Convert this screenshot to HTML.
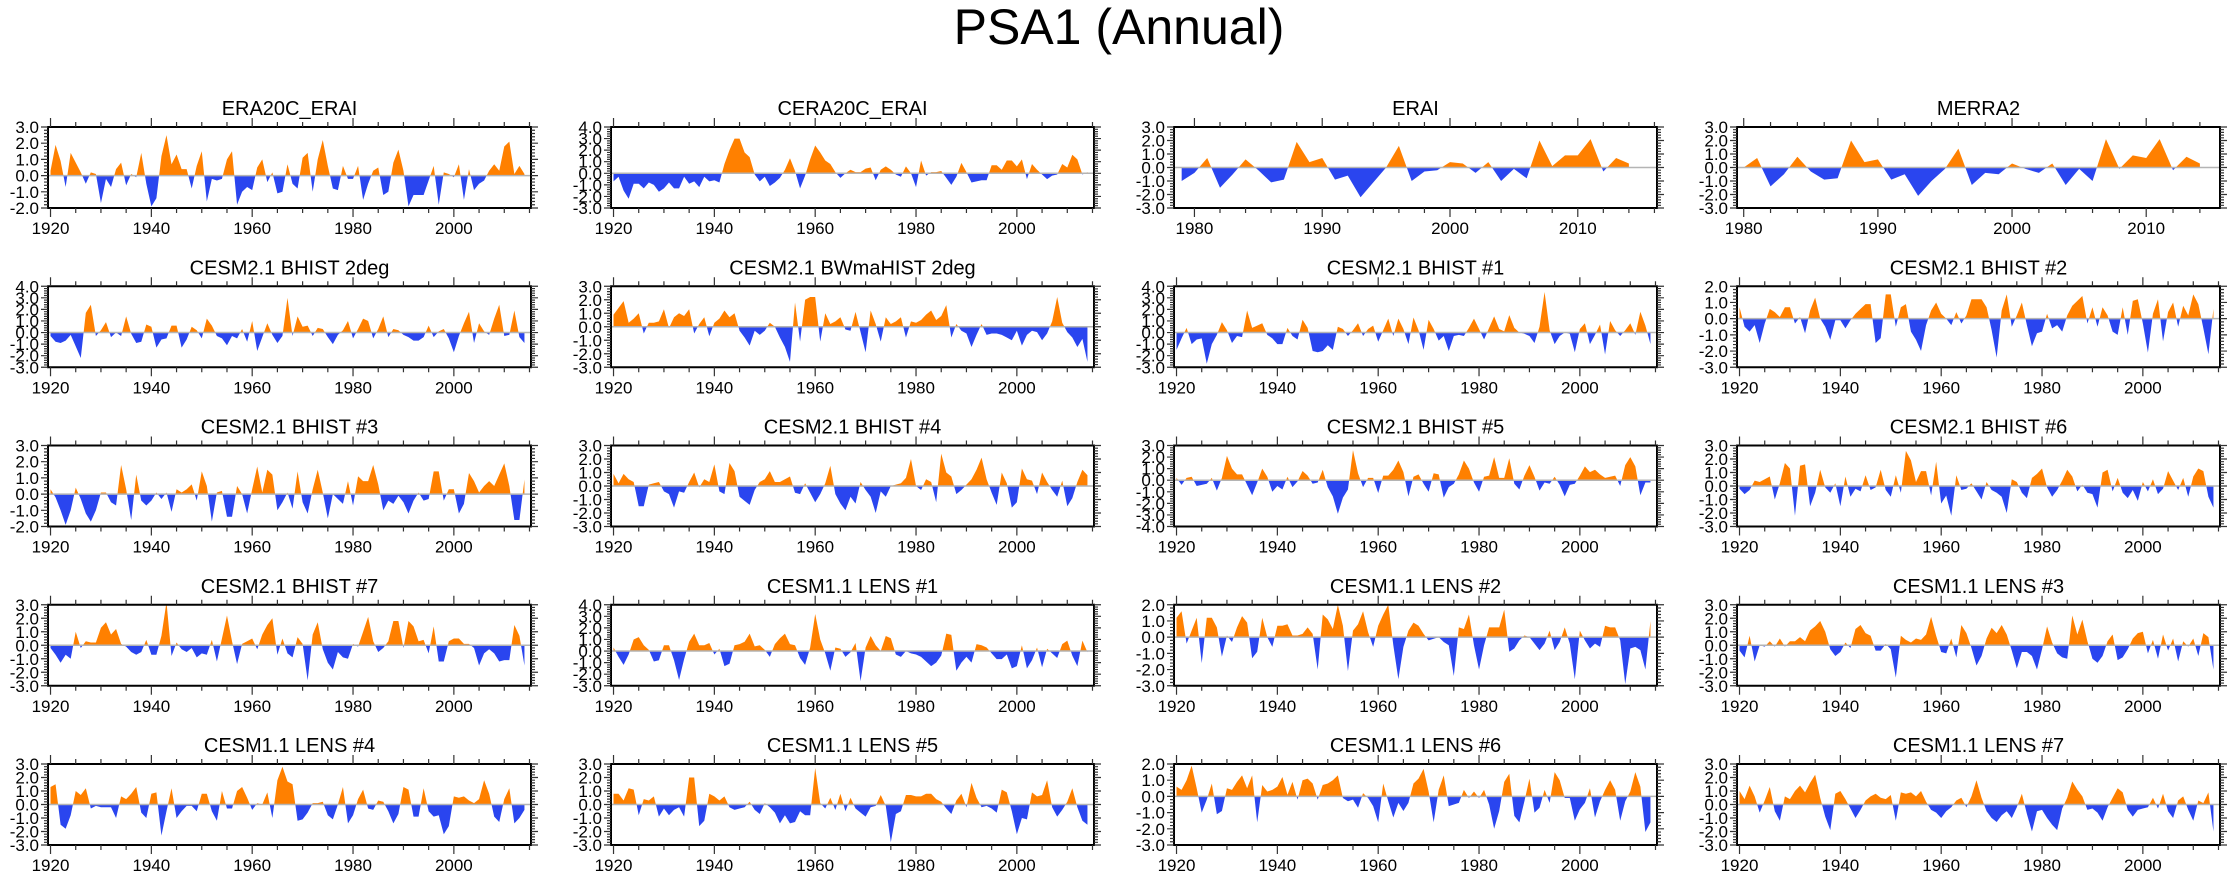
<!DOCTYPE html>
<html>
<head>
<meta charset="utf-8">
<style>
html,body{margin:0;padding:0;background:#fff;}
svg{display:block;font-family:"Liberation Sans",Arial,sans-serif;}
</style>
</head>
<body>
<svg id="chart" width="2238" height="877" viewBox="0 0 2238 877" xmlns="http://www.w3.org/2000/svg">
<text x="1119" y="44" text-anchor="middle" font-size="50">PSA1 (Annual)</text>
<g id="panels"></g>
</svg>
<script>
// ---- data ----
const panelTitles = ["ERA20C_ERAI","CERA20C_ERAI","ERAI","MERRA2",
"CESM2.1 BHIST 2deg","CESM2.1 BWmaHIST 2deg","CESM2.1 BHIST #1","CESM2.1 BHIST #2",
"CESM2.1 BHIST #3","CESM2.1 BHIST #4","CESM2.1 BHIST #5","CESM2.1 BHIST #6",
"CESM2.1 BHIST #7","CESM1.1 LENS #1","CESM1.1 LENS #2","CESM1.1 LENS #3",
"CESM1.1 LENS #4","CESM1.1 LENS #5","CESM1.1 LENS #6","CESM1.1 LENS #7"];
const startYears = [1920,1920,1979,1980,1920,1920,1920,1920,1920,1920,1920,1920,1920,1920,1920,1920,1920,1920,1920,1920];
const yMins = [-2,-3,-3,-3,-3,-3,-3,-3,-2,-3,-4,-3,-3,-3,-3,-3,-3,-3,-3,-3];
const yMaxs = [3,4,3,3,4,3,4,2,3,3,3,3,3,4,2,3,3,3,2,3];
const yTickLabels = ["-4.0","-3.0","-2.0","-1.0","0.0","1.0","2.0","3.0","4.0"];

const era20c = [0.3,1.9,0.9,-0.7,1.4,0.8,0.2,-0.5,0.2,0.1,-1.7,-0.2,-0.7,0.4,0.8,-0.6,0.1,-0.1,1.4,-0.5,-1.9,-1.4,1.2,2.5,0.7,1.3,0.4,0.4,-0.8,0.6,1.5,-1.6,-0.2,-0.3,-0.2,1.0,1.5,-1.8,-1.0,-0.7,-0.9,0.5,1.0,-0.4,0.2,-1.1,-1.0,0.7,-0.5,-0.8,1.1,1.4,-1.0,1.0,2.2,0.6,-0.8,-0.9,0.6,-0.2,-0.2,0.6,-1.5,-0.5,0.3,0.5,-1.2,-1.0,0.8,1.6,0.3,-1.9,-1.2,-1.2,-1.2,-0.3,0.6,-1.8,0.2,0.1,-0.1,0.7,-1.5,0.4,-0.9,-0.5,-0.3,0.3,0.7,0.3,1.8,2.1,0.1,0.6,0.1];
const cera20c = [-0.7,-0.3,-1.5,-2.2,-0.9,-0.9,-1.3,-0.8,-1.0,-1.6,-1.3,-0.8,-1.3,-1.3,-0.3,-0.9,-0.7,-1.2,-0.3,-0.7,-0.6,-0.8,0.8,2.0,3.0,3.0,1.8,1.4,-0.1,-0.7,-0.3,-1.1,-0.8,-0.4,0.3,1.3,0.2,-1.3,-0.2,1.2,2.4,1.8,1.1,0.8,0.1,-0.4,0.0,0.3,0.1,0.1,0.4,0.5,-0.6,0.3,0.6,0.3,-0.1,-0.3,0.6,0.0,-1.2,1.1,-0.2,0.1,0.1,0.2,-0.4,-1.0,-0.3,0.9,0.1,-0.8,-0.7,-0.6,-0.6,0.7,0.7,0.3,1.1,1.1,0.6,1.2,-0.5,0.8,0.3,-0.1,-0.5,-0.2,-0.1,0.8,0.5,1.6,1.2,-0.1,0.1];
const erai = [-1.0,-0.4,0.7,-1.5,-0.5,0.6,-0.2,-1.1,-0.9,1.9,0.4,0.7,-0.9,-0.6,-2.2,-1.1,0.0,1.6,-1.0,-0.3,-0.2,0.4,0.3,-0.4,0.4,-1.0,-0.1,-0.8,2.0,0.1,0.9,0.9,2.1,-0.3,0.7,0.3];
const merra2 = [0.0,0.7,-1.4,-0.5,0.8,-0.3,-0.9,-0.8,2.0,0.4,0.6,-0.9,-0.5,-2.1,-1.0,-0.1,1.4,-1.3,-0.4,-0.5,0.3,-0.1,-0.4,0.3,-1.3,-0.1,-1.0,2.1,-0.1,0.9,0.7,2.1,-0.2,0.8,0.3];
const bhist2deg = [-0.3,-0.8,-0.9,-0.7,-0.2,-1.2,-2.2,1.7,2.4,-0.3,0.2,0.9,-0.4,0.0,-0.3,1.4,-0.1,-0.9,-0.8,0.7,0.5,-1.3,-0.6,-0.5,0.6,0.6,-1.3,-0.6,0.5,0.2,-0.5,1.2,0.6,-0.3,-0.5,-1.1,-0.3,-0.5,0.3,-0.8,1.0,-1.6,-0.4,0.8,-0.2,-0.9,-0.3,3.0,-0.3,1.4,0.5,0.6,-0.3,0.4,0.3,-0.4,-1.0,-0.2,0.2,1.0,-0.5,0.3,1.2,1.0,-0.5,0.3,1.4,-0.4,0.3,0.2,-0.2,-0.4,-0.7,-0.7,-0.4,0.6,-0.4,0.1,0.3,-0.5,-1.7,-0.3,0.8,1.8,-0.9,0.8,0.1,-0.2,1.2,2.4,-0.3,-0.2,1.9,-0.4,-0.9];
const bwmahist = [0.9,1.4,1.9,0.3,0.6,1.0,-0.5,0.3,0.3,0.4,1.3,-0.1,0.7,1.0,0.8,1.3,-0.5,0.2,0.7,-0.7,0.3,0.6,1.2,0.7,1.0,-0.3,-0.8,-1.4,-0.3,-0.6,-0.3,0.3,0.0,-0.8,-1.5,-2.6,1.8,-1.1,2.0,2.2,2.2,-1.1,1.0,0.2,0.4,0.7,-0.2,-0.3,1.1,-0.4,-1.9,1.2,0.2,-1.1,0.7,0.2,0.4,0.7,-0.8,0.4,0.3,0.5,0.9,1.2,0.5,0.8,1.6,-0.8,0.2,-0.3,-0.5,-1.5,-0.6,0.2,-0.6,-0.5,-0.5,-0.6,-0.8,-1.0,-0.3,-1.4,-0.6,-0.3,-0.4,-1.0,-0.5,0.4,2.2,0.3,-0.4,-0.8,-1.5,-0.9,-2.6];
const bhist1 = [-1.5,-0.5,0.4,-1.0,-0.6,-0.5,-2.7,-1.0,-0.2,0.9,0.2,-0.9,-0.3,-0.4,1.9,0.4,0.6,0.8,-0.2,-0.5,-1.0,-1.0,0.4,-0.3,-0.6,1.1,0.4,-1.6,-1.7,-1.6,-1.1,-1.5,0.5,0.3,-0.3,0.2,0.8,-0.3,0.3,0.6,-0.8,0.2,1.2,-0.3,1.2,0.3,-1.0,1.3,0.2,-1.5,1.1,0.3,-0.7,-0.3,-1.6,-0.3,-0.2,-0.3,0.4,1.2,0.3,-0.6,0.4,1.4,0.3,0.1,1.5,0.4,0.0,-0.1,-0.3,-0.9,0.5,3.5,0.2,-1.0,-0.3,0.0,-0.1,-1.7,0.3,0.8,-1.0,-0.2,0.7,-1.9,1.0,0.2,-0.3,0.2,0.8,-0.2,1.8,0.6,-1.0];
const bhist2 = [0.7,-0.5,-0.8,-0.4,-1.5,-0.3,0.6,0.4,0.1,0.7,0.7,-0.3,0.1,-0.9,0.5,1.3,0.0,-0.5,-1.3,-0.1,-0.1,-0.6,-0.1,0.3,0.6,0.9,0.9,-1.5,-1.2,1.5,1.5,-0.5,0.7,0.9,-0.8,-1.3,-2.0,-0.4,0.5,1.0,0.3,0.0,-0.4,0.4,-0.3,0.2,1.2,1.2,1.2,0.7,-0.7,-2.4,0.5,1.5,-0.5,0.2,1.0,-0.4,-1.7,-0.9,-0.8,0.3,-0.6,-0.4,-0.8,0.2,0.8,1.1,1.4,-0.3,0.7,-0.5,0.7,0.2,-0.8,-1.0,0.7,-1.0,1.1,1.2,-0.3,-2.1,0.3,1.2,-1.4,0.4,1.0,-0.5,0.8,0.2,1.5,0.9,-0.6,-2.2,0.6];
const bhist3 = [0.3,-0.2,-1.0,-1.9,-1.0,0.4,-0.3,-1.2,-1.7,-1.0,0.1,0.1,-0.5,-0.7,1.8,0.3,-1.6,1.2,-0.4,-0.7,-0.4,0.1,-0.3,0.1,-1.1,0.3,0.1,0.3,0.6,-0.4,1.4,0.5,-1.7,0.1,0.2,-1.4,-1.4,0.5,0.0,-1.2,0.3,1.7,0.1,1.5,1.2,-1.0,-0.5,0.1,-0.9,1.4,-0.5,-1.2,0.3,1.5,0.1,-1.5,0.0,-0.3,-0.6,0.8,-0.7,1.1,0.8,0.8,1.8,0.6,-1.0,-0.4,-0.6,-0.1,-0.5,-1.2,-0.4,0.1,-0.4,-0.3,1.4,1.4,-0.4,0.3,0.3,-1.2,-0.6,1.3,0.8,0.1,0.5,0.8,0.5,1.2,1.9,0.5,-1.6,-1.6,0.9];
const bhist4 = [0.9,0.2,0.9,0.5,0.3,-1.5,-1.5,0.1,0.2,0.3,-0.4,-0.6,-1.6,-0.4,-0.5,0.3,1.0,-0.1,0.5,0.3,1.6,-0.4,-0.6,1.7,1.1,-0.8,-1.1,-1.4,-0.3,0.3,0.5,1.1,0.3,0.3,0.5,0.7,-0.5,-0.6,0.2,-0.5,-1.2,-0.6,0.2,1.5,-0.6,-1.3,-1.8,-0.8,-1.3,0.3,-0.3,-0.8,-2.0,-0.4,-0.8,0.0,0.1,0.2,0.6,2.0,0.0,-0.3,0.5,0.3,-1.2,2.4,1.0,0.7,-0.6,-0.3,0.1,0.5,1.2,2.1,0.5,-0.5,-1.4,1.0,0.2,-1.6,-1.2,1.3,0.5,0.4,-0.6,1.0,0.3,-0.3,-0.8,0.4,-1.5,-0.9,0.3,1.2,0.8];
const bhist5 = [0.2,-0.4,0.2,0.3,-0.5,-0.4,-0.3,0.2,-0.9,0.2,2.1,1.0,0.5,0.5,-0.4,-1.3,-0.2,1.0,0.3,-1.0,-0.5,-0.8,0.3,-0.6,-0.1,0.8,0.4,-0.3,-0.2,0.9,-0.6,-1.4,-2.9,-1.5,-0.8,2.6,0.6,-0.6,0.2,0.2,-1.1,0.4,0.4,0.9,1.7,0.7,-1.4,0.3,0.5,-0.3,-1.0,0.6,0.5,-1.5,-0.6,-0.3,0.5,1.7,1.0,-0.2,-1.0,0.3,0.4,2.0,0.2,0.2,1.9,-0.3,-0.8,0.4,1.3,0.3,-0.9,-0.2,-0.3,0.3,-0.4,-1.4,-0.4,-0.3,0.4,1.2,0.7,0.9,0.5,0.2,0.3,0.4,-0.5,1.3,2.0,1.2,-1.3,-0.2,-0.2];
const bhist6 = [-0.2,-0.6,-0.3,0.4,0.3,0.5,0.7,-1.0,0.2,1.7,1.3,-2.2,1.5,1.6,-1.5,-0.5,1.2,-0.1,-0.5,0.2,-1.5,0.7,-0.8,-0.2,-0.4,0.8,-0.3,-0.1,1.2,-0.3,-0.8,0.8,-0.5,2.6,1.9,0.3,1.1,1.1,-0.7,1.8,-1.3,-0.7,-2.2,0.8,-0.3,-0.2,0.2,-0.4,-1.0,0.3,-0.3,-0.5,-0.8,-2.0,0.5,0.3,-0.5,-0.9,0.6,0.9,1.3,-0.1,-0.8,-0.3,0.4,1.2,0.7,-0.4,0.1,-0.5,-0.6,-1.6,1.0,1.2,-0.4,0.6,-0.5,-0.9,-0.3,-1.1,0.3,-0.4,0.5,-0.6,-0.2,1.1,0.4,-0.3,0.6,-0.8,0.7,1.3,1.1,-0.8,-1.6];
const bhist7 = [-0.2,-0.7,-1.3,-0.7,-1.0,1.0,-0.2,0.3,0.2,0.2,1.3,1.7,0.8,1.2,0.1,-0.1,-0.5,-0.7,-0.5,0.4,-0.7,-0.7,0.7,3.2,-0.8,0.2,-0.3,-0.5,-0.2,-0.9,-0.6,-0.7,0.4,-1.2,0.5,2.2,0.3,-1.4,0.1,0.3,0.5,-0.3,0.8,1.5,2.0,-0.7,0.5,-0.6,-0.9,0.6,0.1,-2.6,0.8,1.7,-0.3,-1.3,-1.8,-0.5,-0.9,-1.0,0.1,-0.1,1.0,2.1,0.3,-0.5,-0.2,0.3,1.8,1.8,-0.2,1.8,1.4,0.3,0.4,-0.6,1.4,-1.2,-1.2,0.3,0.5,0.5,0.1,0.1,-0.2,-1.5,-0.6,-0.3,-0.6,-1.2,-1.1,-1.1,1.5,0.7,-1.5];
const lens1 = [0.3,-0.5,-1.2,-0.3,1.0,1.2,0.5,0.1,-0.9,-0.8,0.5,0.5,-0.8,-2.5,-0.7,0.8,1.5,0.5,0.5,0.7,-0.3,0.2,-1.3,-1.1,0.5,0.6,0.8,1.5,0.4,0.5,0.1,-0.5,0.6,1.1,1.5,0.6,0.5,-0.6,-1.2,0.3,3.2,1.0,-0.2,-1.7,0.3,0.2,-0.5,-0.1,0.7,-2.6,0.3,1.3,0.5,0.0,1.3,1.1,-0.3,-0.5,0.0,-0.2,-0.3,-0.5,-0.9,-1.3,-1.0,-0.4,1.5,1.4,-1.7,-1.0,-0.5,-1.0,0.6,0.5,0.3,-0.2,-0.7,-0.7,-0.3,-1.5,-1.3,0.5,-1.5,-0.8,0.3,-1.4,0.2,-0.2,-0.6,0.6,0.9,-0.4,-1.3,0.9,-0.1];
const lens2 = [1.2,1.6,-0.4,0.4,1.2,-1.6,1.2,1.2,0.6,-1.2,0.1,-0.3,0.6,1.3,0.9,-1.3,-0.9,1.2,0.0,-0.6,0.7,0.7,0.8,0.1,0.1,0.2,0.6,0.2,-2.0,1.4,1.1,0.5,2.0,0.7,-2.1,0.4,0.8,1.6,0.3,-0.6,0.7,1.4,2.0,-0.5,-2.6,-0.6,0.4,0.9,0.7,0.2,-0.2,-0.1,0.0,-0.3,-0.5,-2.4,0.6,0.5,1.4,-0.5,-2.0,-0.5,0.6,0.6,0.6,1.7,-0.9,-0.7,-0.2,0.1,0.0,-0.4,-0.8,-0.4,0.4,-0.8,-0.3,0.6,-0.4,-2.6,0.4,-0.2,-0.7,-0.4,-0.6,0.7,0.6,0.6,-0.2,-2.9,-0.7,-0.6,-0.8,-2.0,1.0];
const lens3 = [-0.4,-0.9,0.7,-1.2,0.0,-0.1,0.3,-0.1,0.5,-0.1,0.3,0.3,0.6,0.3,1.1,1.4,1.8,1.0,-0.3,-0.8,-0.5,0.2,-0.2,1.2,1.5,0.9,0.7,-0.4,-0.4,0.1,-0.3,-2.4,0.7,0.4,0.2,0.5,0.4,0.8,2.1,0.7,-0.5,-0.6,0.5,-0.9,1.5,0.9,-0.2,-1.5,-0.8,0.5,1.3,0.9,1.5,0.8,-0.4,-1.7,-0.5,-0.5,-0.8,-1.8,-0.3,1.4,0.2,-0.6,-0.9,-1.0,2.2,0.8,1.9,0.3,-1.0,-1.3,-0.8,0.3,0.8,-1.1,-0.9,-0.3,0.5,0.9,1.0,-0.6,0.4,-1.0,0.8,-0.4,0.5,-1.2,0.3,-0.1,0.5,-0.8,0.9,0.6,-1.8];
const lens4 = [1.3,1.5,-1.5,-1.8,-0.8,1.0,0.7,1.2,-0.3,-0.1,-0.2,-0.2,-0.2,-1.0,0.6,0.4,0.8,1.3,-0.6,-1.0,0.8,0.9,-2.3,-0.5,1.2,-1.0,-0.5,-0.1,-0.1,-0.5,0.8,0.8,-0.5,-1.2,1.0,-0.3,-0.3,1.0,1.3,0.5,-0.4,0.1,0.0,0.9,-1.0,1.8,2.8,1.7,1.5,-1.2,-1.1,-0.6,0.1,0.1,0.2,-0.8,-1.1,0.0,1.3,-1.4,-0.8,0.4,1.1,-0.3,-0.4,0.3,0.2,-0.5,-1.4,-0.7,1.3,1.1,-0.9,-0.9,1.2,-0.5,-0.9,-0.8,-2.2,-1.6,0.6,0.5,0.6,0.3,0.1,0.4,1.8,0.8,-0.9,-1.3,0.4,1.2,-1.4,-1.0,-0.4];
const lens5 = [0.8,0.8,0.3,1.2,1.1,-0.8,0.4,0.3,0.6,-0.9,-0.3,-0.8,-0.4,-0.2,-0.9,2.0,2.0,-1.6,-1.2,0.8,0.6,0.3,0.6,-0.2,-0.4,-0.3,-0.2,0.2,-0.4,-0.7,0.1,-0.2,-0.6,-1.4,-0.8,-1.4,-1.3,-0.5,-0.8,-0.8,2.7,0.1,-0.3,0.5,-0.4,0.8,-0.5,0.5,-0.3,-0.6,-0.9,-0.2,-0.1,0.7,-0.1,-2.8,-0.7,-0.5,0.7,0.7,0.6,0.6,0.8,0.8,0.4,0.2,-0.3,-0.7,0.3,0.8,-0.2,1.6,0.5,-0.2,-0.1,-0.3,-0.6,1.1,0.9,-0.5,-2.2,-1.0,-1.1,0.9,0.6,0.7,1.8,-0.2,-0.9,-0.4,0.2,1.2,-0.2,-1.2,-1.5];
const lens6 = [0.6,0.4,1.0,1.9,0.5,-1.0,-0.2,0.8,-1.1,-0.9,0.5,0.4,0.9,1.3,0.5,1.3,-1.6,0.7,0.3,0.4,0.6,1.2,0.1,0.9,-0.2,1.0,1.1,0.8,-0.2,0.7,0.8,1.0,1.3,-0.1,-0.3,-0.2,-0.7,0.2,-0.1,-0.6,-1.6,0.8,-0.3,-1.3,-0.4,-0.9,-0.4,0.8,1.1,1.7,0.3,-1.6,0.4,1.3,-0.6,-0.5,-0.4,0.4,-0.1,0.3,-0.1,0.4,-0.5,-2.0,-0.9,0.9,1.4,-1.2,-1.6,-0.3,1.1,-1.0,-0.7,0.4,-0.4,1.5,1.0,-0.1,-0.1,-1.5,-0.8,-0.4,0.5,-1.3,-0.3,0.4,1.0,0.4,-1.5,-0.3,0.3,1.5,0.6,-2.2,-1.6];
const lens7 = [1.0,0.4,1.4,0.6,-0.6,0.3,1.3,-0.5,-1.2,0.6,0.4,1.0,1.4,0.9,1.6,2.2,0.5,-0.9,-1.9,0.8,1.0,0.4,-0.3,-1.0,-0.4,0.3,0.6,0.8,0.5,0.4,0.7,-1.2,0.9,0.8,0.9,0.6,1.0,0.2,-0.4,-0.6,-1.0,-0.5,-0.2,0.3,0.5,-0.2,0.6,1.8,0.5,-0.5,-1.0,-1.3,-0.8,-0.5,-1.0,-0.2,0.8,-0.7,-2.0,-0.5,-0.4,-1.0,-1.5,-1.9,-0.3,0.5,1.7,1.1,0.6,-0.4,-0.3,-0.6,-1.2,-0.2,0.5,1.2,0.9,-0.4,-0.9,-0.4,-0.3,-0.2,0.5,-0.3,0.8,-0.5,-1.0,0.3,0.6,-0.4,-1.2,0.3,0.1,0.9,-2.0];

const series = [era20c,cera20c,erai,merra2,bhist2deg,bwmahist,bhist1,bhist2,bhist3,bhist4,bhist5,bhist6,bhist7,lens1,lens2,lens3,lens4,lens5,lens6,lens7];

// ---- layout ----
const NS = "http://www.w3.org/2000/svg";
const colLeft = [48, 611, 1174, 1737];
const boxW = 483, boxH = 81;
function rowTop(r){ return 127 + 159.25*r; }
function xDomain(i){
  if (startYears[i] === 1979) return [1978.4, 2016.2];
  if (startYears[i] === 1980) return [1979.5, 2015.5];
  return [1919.5, 2015.3];
}
function mk(tag, attrs, parent){
  const e = document.createElementNS(NS, tag);
  for (const k in attrs) e.setAttribute(k, attrs[k]);
  parent.appendChild(e);
  return e;
}
const root = document.getElementById('panels');

series.forEach((vals, i) => {
  const col = i % 4, row = Math.floor(i/4);
  const L = colLeft[col], T = rowTop(row), R = L + boxW, B = T + boxH;
  const [x0, x1] = xDomain(i);
  const yMin = yMins[i], yMax = yMaxs[i];
  const sx = v => L + (v - x0) / (x1 - x0) * boxW;
  const sy = v => B - (v - yMin) / (yMax - yMin) * boxH;
  const g = mk('g', {}, root);
  
  

  const t = mk('text', {x: (L+R)/2, y: T - 12, 'text-anchor':'middle', 'font-size': 20}, g);
  t.textContent = panelTitles[i];
  
  

  const y0 = startYears[i];
  const z = sy(0);
  let d = 'M' + sx(y0).toFixed(2) + ',' + z.toFixed(2);
  vals.forEach((v, k) => { d += ' L' + sx(y0 + k).toFixed(2) + ',' + sy(v).toFixed(2); });
  d += ' L' + sx(y0 + vals.length - 1).toFixed(2) + ',' + z.toFixed(2) + ' Z';
  const cidA = 'ca' + i, cidB = 'cb' + i;
  const defs = mk('defs', {}, g);
  const ca = mk('clipPath', {id: cidA}, defs);
  mk('rect', {x: L, y: T, width: boxW, height: z - T}, ca);
  const cb = mk('clipPath', {id: cidB}, defs);
  mk('rect', {x: L, y: z, width: boxW, height: B - z}, cb);
  const pa = mk('path', {d: d, fill: '#ff8000', 'clip-path': 'url(#' + cidA + ')'}, g);
  
  
  const pb = mk('path', {d: d, fill: '#2a45ef', 'clip-path': 'url(#' + cidB + ')'}, g);
  
  
  const zl = mk('line', {x1: L, x2: R, y1: z, y2: z, stroke: '#b4b4b4', 'stroke-width': 1.5}, g);
  
  

  const bx = mk('rect', {x: L, y: T, width: boxW, height: boxH, fill: 'none', stroke: '#000', 'stroke-width': 2}, g);
  
  

  const isShort = y0 > 1950;
  const major = isShort ? 10 : 20, minor = isShort ? 2 : 5;
  let tk = '';
  for (let yr = Math.ceil(x0 / minor) * minor; yr <= x1; yr += minor) {
    const X = sx(yr).toFixed(2);
    const len = (yr % major === 0) ? 9 : 5;
    tk += 'M' + X + ',' + B + 'v' + len + 'M' + X + ',' + T + 'v-' + len;
  }
  for (let v = yMin; v <= yMax + 1e-9; v += 0.2) {
    const Y = sy(v).toFixed(2);
    const isMaj = Math.abs(v - Math.round(v)) < 1e-6;
    const len = isMaj ? 7 : 4;
    tk += 'M' + L + ',' + Y + 'h-' + len + 'M' + R + ',' + Y + 'h' + len;
  }
  const tp = mk('path', {d: tk, stroke: '#333', 'stroke-width': 1.2, fill: 'none'}, g);
  
  

  const firstMaj = Math.ceil(x0 / major) * major;
  for (let yr = firstMaj; yr <= x1; yr += major) {
    const lt = mk('text', {x: sx(yr), y: B + 26, 'text-anchor': 'middle', 'font-size': 17}, g);
    lt.textContent = String(yr);
    
    
  }
  for (let v = yMin; v <= yMax; v++) {
    const lt = mk('text', {x: L - 9, y: sy(v) + 6, 'text-anchor': 'end', 'font-size': 17}, g);
    lt.textContent = yTickLabels[v + 4];
    
    
  }
});
</script>
</body>
</html>
